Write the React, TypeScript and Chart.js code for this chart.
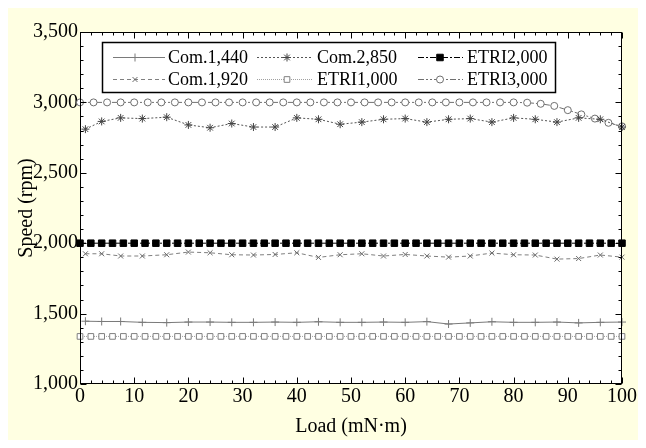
import React, { useEffect, useRef } from 'react';
import { Chart, registerables } from 'chart.js';
import { drawPoint } from 'chart.js/helpers';

Chart.register(...registerables);

// ---- data ----
const comLoads = [1, 4, 7.5, 11.5, 16, 20, 24, 28, 32, 36, 40, 44, 48, 52, 56, 60, 64, 68, 72, 76, 80, 84, 88, 92, 96, 100];
const com1440 = [1446, 1444, 1444, 1438, 1436, 1440, 1440, 1438, 1438, 1440, 1438, 1442, 1438, 1438, 1440, 1438, 1443, 1426, 1434, 1442, 1438, 1438, 1440, 1434, 1438, 1440];
const com1920 = [1925, 1925, 1909, 1909, 1918, 1937, 1932, 1918, 1916, 1920, 1932, 1899, 1918, 1925, 1909, 1920, 1909, 1901, 1909, 1930, 1918, 1916, 1887, 1891, 1916, 1901];
const com2850 = [2810, 2865, 2890, 2885, 2895, 2840, 2820, 2850, 2825, 2825, 2890, 2880, 2845, 2860, 2880, 2885, 2860, 2880, 2885, 2860, 2890, 2880, 2860, 2890, 2880, 2825];

const etriLoads = [0, 2, 4, 6, 8, 10, 12, 14, 16, 18, 20, 22, 24, 26, 28, 30, 32, 34, 36, 38, 40, 42, 44, 46, 48, 50, 52, 54, 56, 58, 60, 62, 64, 66, 68, 70, 72, 74, 76, 78, 80, 82, 84, 86, 88, 90, 92, 94, 96, 98, 100];
const etri1000 = [1338, 1338, 1338, 1338, 1338, 1338, 1338, 1338, 1338, 1338, 1338, 1338, 1338, 1338, 1338, 1338, 1338, 1338, 1338, 1338, 1338, 1338, 1338, 1338, 1338, 1338, 1338, 1338, 1338, 1338, 1338, 1338, 1338, 1338, 1338, 1338, 1338, 1338, 1338, 1338, 1338, 1338, 1338, 1338, 1338, 1338, 1338, 1338, 1338, 1338, 1338];
const etri2000 = [2000, 2000, 2000, 2000, 2000, 2000, 2000, 2000, 2000, 2000, 2000, 2000, 2000, 2000, 2000, 2000, 2000, 2000, 2000, 2000, 2000, 2000, 2000, 2000, 2000, 2000, 2000, 2000, 2000, 2000, 2000, 2000, 2000, 2000, 2000, 2000, 2000, 2000, 2000, 2000, 2000, 2000, 2000, 2000, 2000, 2000, 2000, 2000, 2000, 2000, 2000];

const etri3Loads = [0, 2.5, 5, 7.5, 10, 12.5, 15, 17.5, 20, 22.5, 25, 27.5, 30, 32.5, 35, 37.5, 40, 42.5, 45, 47.5, 50, 52.5, 55, 57.5, 60, 62.5, 65, 67.5, 70, 72.5, 75, 77.5, 80, 82.5, 85, 87.5, 90, 92.5, 95, 97.5, 100];
const etri3000 = [3000, 3000, 3000, 3000, 3000, 3000, 3000, 3000, 3000, 3000, 3000, 3000, 3000, 3000, 3000, 3000, 3000, 3000, 3000, 3000, 3000, 3000, 3000, 3000, 3000, 3000, 3000, 3000, 3000, 3000, 3000, 3000, 3000, 2998, 2990, 2975, 2945, 2915, 2885, 2855, 2830];

const xTicks = [0, 10, 20, 30, 40, 50, 60, 70, 80, 90, 100];
const yTicks = [1000, 1500, 2000, 2500, 3000, 3500];

const FONT = "'Liberation Serif', 'Times New Roman', serif";

const pts = (xs: number[], ys: number[]) => xs.map((x, i) => ({ x, y: ys[i] }));

export default function App() {
  const ref = useRef<HTMLCanvasElement>(null);

  useEffect(() => {
    const canvas = ref.current!;
    const font = { family: FONT, size: 20 };

    const datasets: any[] = [
      {
        label: 'Com.1,440', data: pts(comLoads, com1440),
        borderColor: '#7a7a7a', borderWidth: 1, borderDash: [],
        pointStyle: 'cross', pointRadius: 4, pointBorderColor: '#7a7a7a', pointBackgroundColor: '#7a7a7a', pointBorderWidth: 1,
      },
      {
        label: 'Com.1,920', data: pts(comLoads, com1920),
        borderColor: '#808080', borderWidth: 1, borderDash: [4, 3],
        pointStyle: 'crossRot', pointRadius: 3.5, pointBorderColor: '#6a6a6a', pointBackgroundColor: '#6a6a6a', pointBorderWidth: 1,
      },
      {
        label: 'Com.2,850', data: pts(comLoads, com2850),
        borderColor: '#555555', borderWidth: 1, borderDash: [2, 2],
        pointStyle: 'star', pointRadius: 4, pointBorderColor: '#444444', pointBackgroundColor: '#444444', pointBorderWidth: 1,
      },
      {
        label: 'ETRI1,000', data: pts(etriLoads, etri1000),
        borderColor: '#a0a0a0', borderWidth: 1, borderDash: [1, 1],
        pointStyle: 'rect', pointRadius: 4, pointBorderColor: '#808080', pointBackgroundColor: '#ffffff', pointBorderWidth: 1,
      },
      {
        label: 'ETRI2,000', data: pts(etriLoads, etri2000),
        borderColor: '#000000', borderWidth: 1, borderDash: [6, 2, 2, 2],
        pointStyle: 'rect', pointRadius: 4.6, pointBorderColor: '#000000', pointBackgroundColor: '#000000', pointBorderWidth: 1,
      },
      {
        label: 'ETRI3,000', data: pts(etri3Loads, etri3000),
        borderColor: '#707070', borderWidth: 1, borderDash: [6, 2, 2, 2, 2, 2],
        pointStyle: 'circle', pointRadius: 3.5, pointBorderColor: '#707070', pointBackgroundColor: '#ffffff', pointBorderWidth: 1,
      },
    ];
    datasets.forEach((d) => { d.clip = false; d.tension = 0; d.fill = false; });

    const bgPlugin = {
      id: 'bg',
      beforeDraw(chart: any) {
        const { ctx, chartArea: a } = chart;
        ctx.save();
        ctx.fillStyle = '#ffffe2';
        ctx.fillRect(0, 0, chart.width, chart.height);
        ctx.fillStyle = '#ffffff';
        ctx.fillRect(a.left, a.top, a.right - a.left, a.bottom - a.top);
        ctx.restore();
      },
    };

    const framePlugin = {
      id: 'frame',
      afterDatasetsDraw(chart: any) {
        const { ctx, chartArea: a, scales } = chart;
        const xs = scales.x, ys = scales.y;
        ctx.save();
        ctx.setLineDash([]);
        ctx.strokeStyle = '#000';
        ctx.lineWidth = 1;
        const L = Math.round(a.left) + 0.5, R = Math.round(a.right) - 0.5;
        const T = Math.round(a.top) + 0.5, B = Math.round(a.bottom) - 0.5;
        ctx.strokeRect(L, T, R - L, B - T);
        ctx.beginPath();
        for (let v = xTicks[0]; v <= xTicks[xTicks.length - 1] + 1e-9; v += 2) {
          const p = Math.round(xs.getPixelForValue(v)) + 0.5;
          const len = v % 10 === 0 ? 6 : 3;
          ctx.moveTo(p, B); ctx.lineTo(p, B - len);
          ctx.moveTo(p, T); ctx.lineTo(p, T + len);
        }
        for (let v = yTicks[0]; v <= yTicks[yTicks.length - 1] + 1e-9; v += 100) {
          const p = Math.round(ys.getPixelForValue(v)) + 0.5;
          const len = v % 500 === 0 ? 6 : 3;
          ctx.moveTo(L, p); ctx.lineTo(L + len, p);
          ctx.moveTo(R, p); ctx.lineTo(R - len, p);
        }
        ctx.stroke();

        // legend
        const bx = a.left + 22, by = a.top + 10, bw = 453, bh = 50;
        ctx.fillStyle = '#ffffff';
        ctx.fillRect(bx, by, bw, bh);
        ctx.strokeStyle = '#000';
        ctx.lineWidth = 1.5;
        ctx.strokeRect(Math.round(bx) + 0.5, Math.round(by) + 0.5, bw, bh);
        const rows = [by + 15, by + 37];
        const cols = [
          { x0: bx + 11, x1: bx + 63, m: bx + 33, t: bx + 66 },
          { x0: bx + 155, x1: bx + 211, m: bx + 185, t: bx + 215 },
          { x0: bx + 316, x1: bx + 361, m: bx + 338, t: bx + 365 },
        ];
        const order = [0, 2, 4, 1, 3, 5];
        order.forEach((di, k) => {
          const d = datasets[di];
          const c = cols[k % 3];
          const y = rows[Math.floor(k / 3)];
          ctx.save();
          ctx.strokeStyle = d.borderColor;
          ctx.lineWidth = d.borderWidth;
          ctx.setLineDash(d.borderDash);
          ctx.beginPath();
          ctx.moveTo(c.x0, y + 0.5);
          ctx.lineTo(c.x1, y + 0.5);
          ctx.stroke();
          ctx.setLineDash([]);
          ctx.strokeStyle = d.pointBorderColor;
          ctx.fillStyle = d.pointBackgroundColor;
          ctx.lineWidth = d.pointBorderWidth;
          drawPoint(ctx, { pointStyle: d.pointStyle, radius: d.pointRadius, rotation: 0, borderWidth: d.pointBorderWidth } as any, c.m, y + 0.5);
          ctx.restore();
          ctx.fillStyle = '#000';
          ctx.font = `18px ${FONT}`;
          ctx.textBaseline = 'middle';
          ctx.textAlign = 'left';
          ctx.fillText(d.label, c.t, y + 1);
        });
        ctx.restore();
      },
    };

    const chart = new Chart(canvas, {
      type: 'line',
      data: { datasets },
      options: {
        animation: false,
        responsive: false,
        devicePixelRatio: 1,
        layout: { padding: { top: 24, right: 15, left: 0, bottom: 0 } },
        plugins: { legend: { display: false }, tooltip: { enabled: false } },
        scales: {
          x: {
            type: 'linear', min: 0, max: 100,
            grid: { display: false, drawTicks: false },
            border: { display: false },
            afterBuildTicks: (s: any) => { s.ticks = xTicks.map((v) => ({ value: v })); },
            ticks: { padding: 1, font, color: '#000', maxRotation: 0, autoSkip: false },
            title: { display: true, text: 'Load (mN·m)', font, color: '#000', padding: { top: 0, bottom: 1 } },
            afterFit: (s: any) => { s.height = 56; },
          },
          y: {
            type: 'linear', min: 1000, max: 3500,
            grid: { display: false, drawTicks: false },
            border: { display: false },
            afterBuildTicks: (s: any) => { s.ticks = yTicks.map((v) => ({ value: v })); },
            ticks: { padding: 2, font, color: '#000', autoSkip: false, callback: (v: any) => Number(v).toLocaleString('en-US') },
            title: { display: true, text: 'Speed (rpm)', font, color: '#000', padding: { top: 7, bottom: 0 } },
            afterFit: (s: any) => { s.width = 72; },
          },
        },
      } as any,
      plugins: [bgPlugin, framePlugin],
    });
    return () => chart.destroy();
  }, []);

  return <canvas ref={ref} width={630} height={432} style={{ display: 'block' }} />;
}
